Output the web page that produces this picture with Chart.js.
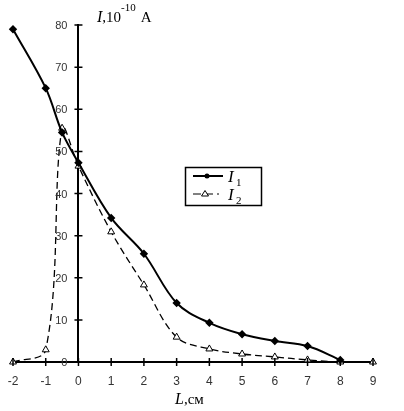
<!DOCTYPE html>
<html>
<head>
<meta charset="utf-8">
<script src="https://cdn.jsdelivr.net/npm/chart.js@4.4.0/dist/chart.umd.min.js"></script>
<style>
body { margin: 0; background: #fff; }
#wrap { width: 404px; height: 411px; }
</style>
</head>
<body>
<div id="wrap"><canvas id="chart" width="404" height="411"></canvas></div>
<script>
// L, cm
const posL1 = [-2, -1, -0.5, 0, 1, 2, 3, 4, 5, 6, 7, 8];
const valI1 = [79, 65, 54.5, 47.3, 34.2, 25.7, 14, 9.3, 6.6, 5, 3.8, 0.5];
const posL2 = [-2, -1, -0.5, 0, 1, 2, 3, 4, 5, 6, 7, 8, 9];
const valI2 = [0, 2.9, 55.5, 46.5, 30.9, 18.3, 5.9, 3.1, 1.9, 1.2, 0.5, 0, 0];
const seriesNames = ['1', '2'];   // subindices de I
const xTicks = [-2, -1, 0, 1, 2, 3, 4, 5, 6, 7, 8, 9];
const yTicks = [0, 10, 20, 30, 40, 50, 60, 70, 80];

const serif = '"Liberation Serif", "DejaVu Serif", serif';
const sans = '"Liberation Sans", Arial, sans-serif';

//------marcas de los ejes, etiquetas y, titulos y leyenda
const extras = {
    id: 'extras',
    afterDraw(chart) {
        const { ctx, scales: { x, y } } = chart;
        const x0 = x.getPixelForValue(0);
        const y0 = y.getPixelForValue(0);
        ctx.save();
        ctx.strokeStyle = '#000';
        ctx.lineWidth = 1.5;
        ctx.beginPath();
        xTicks.forEach(v => {
            const px = x.getPixelForValue(v);
            ctx.moveTo(px, y0 - 4);
            ctx.lineTo(px, y0 + 4);
        });
        yTicks.forEach(v => {
            const py = y.getPixelForValue(v);
            ctx.moveTo(x0 - 4, py);
            ctx.lineTo(x0 + 4, py);
        });
        ctx.stroke();

        // etiquetas eje y (a la izquierda del eje en x = 0)
        ctx.fillStyle = '#333';
        ctx.font = '11px ' + sans;
        ctx.textAlign = 'right';
        ctx.textBaseline = 'middle';
        yTicks.forEach(v => {
            ctx.fillText(String(v), x0 - 11, y.getPixelForValue(v) + 1);
        });

        // titulo eje y: I,10^-10 A
        ctx.fillStyle = '#000';
        ctx.textBaseline = 'alphabetic';
        ctx.textAlign = 'left';
        let tx = 97;
        ctx.font = 'italic 16px ' + serif;
        ctx.fillText('I', tx, 22);
        tx += ctx.measureText('I').width;
        ctx.font = '15px ' + serif;
        ctx.fillText(',10', tx, 22);
        tx += ctx.measureText(',10').width;
        ctx.font = '11px ' + serif;
        ctx.fillText('-10', tx, 11);
        tx += ctx.measureText('-10').width + 5;
        ctx.font = '15px ' + serif;
        ctx.fillText('A', tx, 22);

        // titulo eje x: L,см
        tx = 175;
        ctx.font = 'italic 16px ' + serif;
        ctx.fillText('L', tx, 404);
        tx += ctx.measureText('L').width;
        ctx.font = '15px ' + serif;
        ctx.fillText(',см', tx, 404);

        // leyenda
        ctx.lineWidth = 1.5;
        ctx.strokeRect(185.5, 167.5, 76, 38);
        // I1
        ctx.lineWidth = 2;
        ctx.beginPath();
        ctx.moveTo(193, 176);
        ctx.lineTo(223, 176);
        ctx.stroke();
        ctx.beginPath();
        ctx.arc(207, 176, 2.5, 0, Math.PI * 2);
        ctx.fill();
        // I2
        ctx.lineWidth = 1;
        ctx.setLineDash([8, 4]);
        ctx.beginPath();
        ctx.moveTo(193, 194);
        ctx.lineTo(219, 194);
        ctx.stroke();
        ctx.setLineDash([]);
        ctx.beginPath();
        ctx.moveTo(205, 190.5);
        ctx.lineTo(208.5, 196);
        ctx.lineTo(201.5, 196);
        ctx.closePath();
        ctx.fillStyle = '#fff';
        ctx.fill();
        ctx.stroke();
        ctx.fillStyle = '#000';
        [182, 200].forEach((yy, k) => {
            ctx.font = 'italic 17px ' + serif;
            ctx.fillText('I', 228, yy);
            ctx.font = '11px ' + serif;
            ctx.fillText(seriesNames[k], 236, yy + 4);
        });
        ctx.restore();
    }
}

const data = {
    datasets: [{
        label: 'I1',
        data: posL1.map((v, i) => ({ x: v, y: valI1[i] })),
        borderColor: '#000',
        backgroundColor: '#000',
        borderWidth: 2,
        pointStyle: 'rectRot',
        pointRadius: 2.8,
        tension: 0.35,
        clip: false
    }, {
        label: 'I2',
        data: posL2.map((v, i) => ({ x: v, y: valI2[i] })),
        borderColor: '#000',
        backgroundColor: '#fff',
        borderWidth: 1.3,
        borderDash: [7, 4],
        pointStyle: 'triangle',
        pointRadius: 4,
        pointBorderWidth: 1,
        tension: 0.35,
        clip: false
    }]
}

const config = {
    type: 'line',
    data,
    options: {
        responsive: false,
        animation: false,
        layout: {
            padding: { left: 13, right: 31, top: 25, bottom: 49 }
        },
        scales: {
            x: {
                type: 'linear',
                position: { y: 0 },
                min: -2,
                max: 9,
                afterBuildTicks: axis => { axis.ticks = xTicks.map(v => ({ value: v })); },
                ticks: { color: '#333', font: { family: sans, size: 12 }, padding: 4 },
                grid: { display: false },
                border: { display: true, color: '#000', width: 2 }
            },
            y: {
                type: 'linear',
                position: { x: 0 },
                min: 0,
                max: 80,
                afterBuildTicks: axis => { axis.ticks = yTicks.map(v => ({ value: v })); },
                ticks: { display: false },
                grid: { display: false },
                border: { display: true, color: '#000', width: 2 }
            }
        },
        plugins: {
            legend: { display: false },
            tooltip: { enabled: false }
        }
    },
    plugins: [extras]
}

var myChart = new Chart(document.getElementById('chart'), config);
</script>
</body>
</html>
